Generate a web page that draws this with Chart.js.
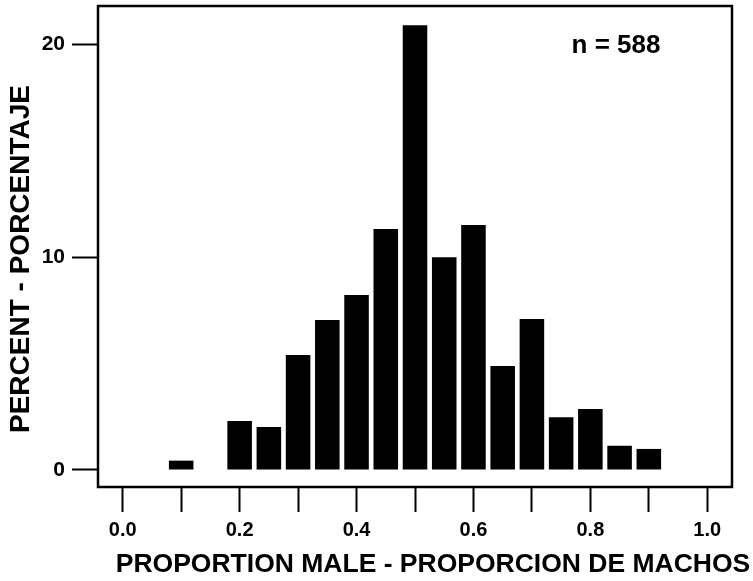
<!DOCTYPE html>
<html>
<head>
<meta charset="utf-8">
<script src="https://cdn.jsdelivr.net/npm/chart.js@4/dist/chart.umd.min.js"></script>
<style>
  html, body { margin: 0; padding: 0; background: #fff; }
  #wrap { width: 753px; height: 581px; position: relative; }
</style>
</head>
<body>
<div id="wrap"><canvas id="hist"></canvas></div>
<script>
'use strict';

/* ── Data ─────────────────────────────────────────────────────────────────── */
const binCentres = [0.10, 0.20, 0.25, 0.30, 0.35, 0.40, 0.45, 0.50, 0.55, 0.60, 0.65, 0.70, 0.75, 0.80, 0.85, 0.90];
const percents   = [0.44, 2.30, 2.02, 5.41, 7.05, 8.23, 11.33, 20.92, 10.01, 11.52, 4.89, 7.10, 2.48, 2.87, 1.14, 0.99];
const xTicks     = [0.0, 0.1, 0.2, 0.3, 0.4, 0.5, 0.6, 0.7, 0.8, 0.9, 1.0];
const xTickLabels = ['0.0', '', '0.2', '', '0.4', '', '0.6', '', '0.8', '', '1.0'];
const yTicks     = [0, 10, 20];
const yTickLabels = ['0', '10', '20'];
const xTitle = 'PROPORTION MALE - PROPORCION DE MACHOS';
const yTitle = 'PERCENT - PORCENTAJE';
const note   = 'n = 588';

const FONT = "'Liberation Sans', Arial, Helvetica, sans-serif";

/* ── Frame + titles drawn over the chart ──────────────────────────────────── */
const framePlugin = {
  id: 'frame',
  afterDraw(chart) {
    const { ctx, chartArea: a } = chart;
    ctx.save();
    ctx.strokeStyle = '#000';
    ctx.lineWidth = 2.5;
    ctx.strokeRect(a.left, a.top, a.right - a.left, a.bottom - a.top);

    ctx.fillStyle = '#000';
    ctx.font = `bold 26.5px ${FONT}`;
    ctx.textAlign = 'center';
    ctx.textBaseline = 'alphabetic';
    ctx.fillText(xTitle, 433, 572);

    ctx.save();
    ctx.translate(29, 259);
    ctx.rotate(-Math.PI / 2);
    ctx.font = `bold 28px ${FONT}`;
    ctx.fillText(yTitle, 0, 0);
    ctx.restore();

    ctx.font = `bold 26px ${FONT}`;
    ctx.textAlign = 'center';
    ctx.textBaseline = 'middle';
    ctx.fillText(note, 616, 46);
    ctx.restore();
  },
};

// drop the label overhang padding Chart.js reserves, so the frame sits where we want it
const noPad = s => { s.paddingTop = 0; s.paddingBottom = 0; s.paddingLeft = 0; s.paddingRight = 0; };

new Chart(document.getElementById('hist'), {
  type: 'bar',
  data: {
    datasets: [{
      data: binCentres.map((x, i) => ({ x, y: percents[i] })),
      backgroundColor: '#000',
      borderWidth: 0,
      barPercentage: 0.84,
      categoryPercentage: 1.0,
    }],
  },
  options: {
    responsive: true,
    maintainAspectRatio: false,
    animation: false,
    layout: { padding: { top: 6, right: 21, left: 0, bottom: 0 } },
    plugins: { legend: { display: false }, tooltip: { enabled: false } },
    scales: {
      x: {
        type: 'linear',
        offset: false,
        min: -0.0423,
        max: 1.0423,
        afterBuildTicks: s => { s.ticks = xTicks.map(v => ({ value: v })); },
        afterFit: s => { s.height = 94; noPad(s); },
        border: { display: false },
        grid: { drawOnChartArea: false, offset: false, tickLength: 25, tickWidth: 2, color: '#000' },
        ticks: {
          autoSkip: false,
          maxRotation: 0,
          padding: 6,
          color: '#000',
          font: { family: FONT, size: 20, weight: 'bold' },
          callback: (v, i) => xTickLabels[i],
        },
      },
      y: {
        min: -0.8,
        max: 21.82,
        afterBuildTicks: s => { s.ticks = yTicks.map(v => ({ value: v })); },
        afterFit: s => { s.width = 98; noPad(s); },
        border: { display: false },
        grid: { drawOnChartArea: false, tickLength: 26, tickWidth: 2, color: '#000' },
        ticks: {
          padding: 7,
          color: '#000',
          font: { family: FONT, size: 21, weight: 'bold' },
          callback: (v, i) => yTickLabels[i],
        },
      },
    },
  },
  plugins: [framePlugin],
});
</script>
</body>
</html>
